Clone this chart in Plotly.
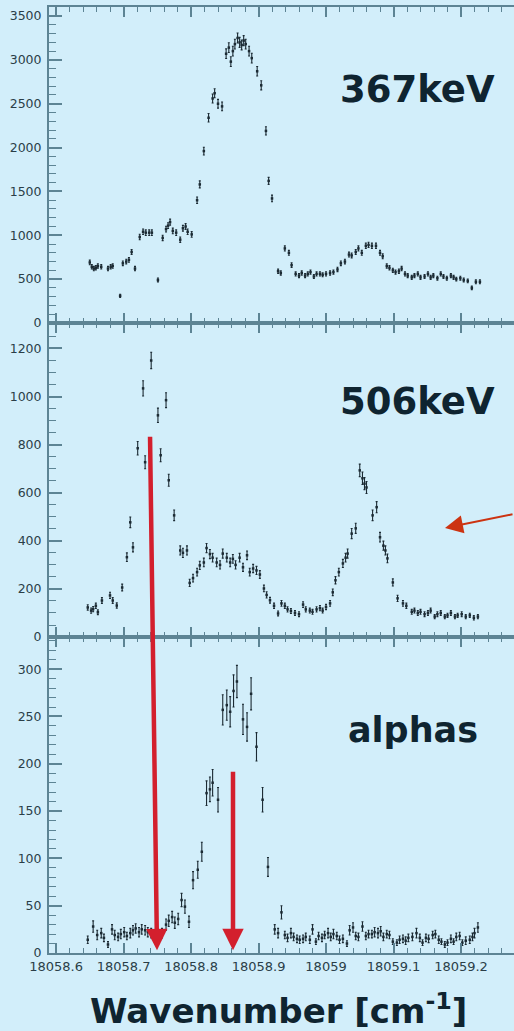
import plotly.graph_objects as go

# ---- 367 keV gate ----
wn_367 = [18058.650, 18058.653, 18058.656, 18058.659, 18058.662, 18058.667, 18058.677, 18058.681,
          18058.684, 18058.695, 18058.699, 18058.704, 18058.708, 18058.712, 18058.717, 18058.724,
          18058.729, 18058.733, 18058.738, 18058.742, 18058.751, 18058.758, 18058.763, 18058.766,
          18058.769, 18058.773, 18058.778, 18058.784, 18058.788, 18058.792, 18058.795, 18058.801,
          18058.809, 18058.813, 18058.819, 18058.826, 18058.832, 18058.835, 18058.840, 18058.846,
          18058.852, 18058.856, 18058.859, 18058.862, 18058.865, 18058.869, 18058.872, 18058.875,
          18058.878, 18058.881, 18058.886, 18058.890, 18058.898, 18058.904, 18058.911, 18058.915,
          18058.920, 18058.929, 18058.933, 18058.939, 18058.945, 18058.949, 18058.955, 18058.960,
          18058.964, 18058.969, 18058.973, 18058.977, 18058.982, 18058.986, 18058.991, 18058.995,
          18059.000, 18059.006, 18059.011, 18059.017, 18059.022, 18059.028, 18059.034, 18059.038,
          18059.044, 18059.048, 18059.053, 18059.059, 18059.063, 18059.068, 18059.074, 18059.080,
          18059.084, 18059.090, 18059.094, 18059.099, 18059.103, 18059.108, 18059.112, 18059.117,
          18059.121, 18059.127, 18059.131, 18059.136, 18059.140, 18059.146, 18059.151, 18059.155,
          18059.159, 18059.165, 18059.170, 18059.174, 18059.179, 18059.185, 18059.189, 18059.193,
          18059.199, 18059.204, 18059.210, 18059.216, 18059.222, 18059.228]
counts_367 = [690, 640, 620, 630, 650, 640, 620, 640, 650, 310, 680, 700, 720, 810, 620, 980,
              1040, 1030, 1030, 1030, 490, 970, 1070, 1110, 1150, 1050, 1030, 950, 1080, 1100, 1040, 1010,
              1400, 1580, 1960, 2340, 2560, 2620, 2500, 2470, 3070, 3140, 2980, 3100, 3180, 3250, 3200, 3170,
              3220, 3180, 3100, 3020, 2870, 2710, 2190, 1620, 1420, 590, 570, 850, 800, 660, 560, 540,
              570, 540, 560, 580, 530, 560, 560, 550, 560, 570, 580, 610, 680, 700, 780, 770,
              810, 850, 800, 880, 890, 880, 880, 800, 760, 650, 630, 600, 580, 590, 620, 560,
              540, 520, 540, 560, 520, 530, 560, 520, 540, 510, 560, 530, 510, 540, 520, 500,
              510, 490, 480, 400, 470, 470]
err_367 = [26, 25, 25, 25, 25, 25, 25, 25, 26, 18, 26, 26, 27, 28, 25, 31,
           32, 32, 32, 32, 22, 31, 33, 33, 34, 32, 32, 31, 33, 33, 32, 32,
           37, 40, 44, 48, 51, 51, 50, 50, 55, 56, 55, 56, 56, 57, 57, 56,
           57, 56, 56, 55, 54, 52, 47, 40, 38, 24, 24, 29, 28, 26, 24, 23,
           24, 23, 24, 24, 23, 24, 24, 23, 24, 24, 24, 25, 26, 26, 28, 28,
           28, 29, 28, 30, 30, 30, 30, 28, 28, 25, 25, 24, 24, 24, 25, 24,
           23, 23, 23, 24, 23, 23, 24, 23, 23, 23, 24, 23, 23, 23, 23, 22,
           23, 22, 22, 20, 22, 22]

# ---- 506 keV gate ----
wn_506 = [18058.647, 18058.652, 18058.655, 18058.659, 18058.662, 18058.668, 18058.680, 18058.684,
          18058.690, 18058.698, 18058.705, 18058.710, 18058.714, 18058.721, 18058.729, 18058.732,
          18058.741, 18058.751, 18058.755, 18058.763, 18058.767, 18058.775, 18058.784, 18058.788,
          18058.794, 18058.798, 18058.803, 18058.809, 18058.813, 18058.819, 18058.823, 18058.828,
          18058.832, 18058.838, 18058.843, 18058.847, 18058.853, 18058.858, 18058.862, 18058.866,
          18058.872, 18058.877, 18058.883, 18058.887, 18058.892, 18058.897, 18058.902, 18058.908,
          18058.912, 18058.917, 18058.923, 18058.929, 18058.934, 18058.939, 18058.943, 18058.948,
          18058.954, 18058.960, 18058.966, 18058.970, 18058.976, 18058.980, 18058.986, 18058.991,
          18058.995, 18059.000, 18059.006, 18059.010, 18059.014, 18059.019, 18059.025, 18059.029,
          18059.032, 18059.038, 18059.044, 18059.050, 18059.054, 18059.057, 18059.060, 18059.069,
          18059.075, 18059.080, 18059.085, 18059.088, 18059.091, 18059.099, 18059.106, 18059.114,
          18059.119, 18059.127, 18059.131, 18059.136, 18059.140, 18059.146, 18059.151, 18059.155,
          18059.161, 18059.165, 18059.170, 18059.176, 18059.180, 18059.185, 18059.191, 18059.195,
          18059.201, 18059.207, 18059.213, 18059.219, 18059.225]
counts_506 = [123, 110, 116, 130, 103, 152, 173, 152, 131, 206, 332, 477, 373, 785, 1034, 727,
              1150, 922, 756, 985, 652, 506, 360, 350, 360, 225, 245, 270, 298, 310, 370, 345,
              330, 310, 300, 347, 330, 310, 325, 300, 330, 290, 340, 270, 285, 277, 260, 202,
              175, 153, 130, 98, 140, 130, 115, 108, 100, 95, 135, 115, 110, 105, 115, 120,
              110, 125, 140, 186, 236, 270, 306, 330, 347, 430, 452, 693, 660, 638, 622, 506,
              540, 415, 380, 360, 327, 227, 161, 140, 130, 105, 110, 100, 105, 95, 100, 110,
              85, 95, 100, 85, 90, 100, 85, 90, 95, 85, 90, 80, 85]
err_506 = [11, 11, 11, 11, 10, 12, 13, 12, 11, 14, 18, 22, 19, 28, 32, 27,
           34, 30, 27, 31, 25, 22, 19, 19, 19, 15, 16, 16, 17, 18, 19, 19,
           18, 18, 17, 19, 18, 18, 18, 17, 18, 17, 18, 16, 17, 17, 16, 14,
           13, 12, 11, 10, 12, 11, 11, 10, 10, 10, 12, 11, 10, 10, 11, 11,
           10, 11, 12, 14, 15, 16, 17, 18, 19, 21, 21, 26, 26, 25, 25, 22,
           23, 20, 19, 19, 18, 15, 13, 12, 11, 10, 10, 10, 10, 10, 10, 10,
           9, 10, 10, 9, 9, 10, 9, 9, 10, 9, 9, 9, 9]

# ---- alpha gate ----
wn_alpha = [18058.647, 18058.655, 18058.661, 18058.667, 18058.671, 18058.677, 18058.683, 18058.687,
            18058.692, 18058.696, 18058.701, 18058.705, 18058.710, 18058.714, 18058.718, 18058.723,
            18058.727, 18058.732, 18058.736, 18058.741, 18058.745, 18058.751, 18058.757, 18058.763,
            18058.767, 18058.772, 18058.776, 18058.781, 18058.786, 18058.791, 18058.797, 18058.803,
            18058.810, 18058.816, 18058.823, 18058.828, 18058.832, 18058.840, 18058.847, 18058.853,
            18058.858, 18058.863, 18058.868, 18058.877, 18058.883, 18058.889, 18058.897, 18058.906,
            18058.914, 18058.924, 18058.929, 18058.934, 18058.939, 18058.943, 18058.948, 18058.952,
            18058.957, 18058.961, 18058.966, 18058.970, 18058.976, 18058.980, 18058.985, 18058.989,
            18058.994, 18058.998, 18059.003, 18059.007, 18059.011, 18059.016, 18059.020, 18059.025,
            18059.031, 18059.035, 18059.040, 18059.044, 18059.048, 18059.054, 18059.059, 18059.063,
            18059.068, 18059.072, 18059.077, 18059.081, 18059.085, 18059.090, 18059.094, 18059.099,
            18059.105, 18059.109, 18059.114, 18059.118, 18059.122, 18059.128, 18059.134, 18059.139,
            18059.143, 18059.148, 18059.152, 18059.158, 18059.162, 18059.167, 18059.171, 18059.176,
            18059.180, 18059.185, 18059.189, 18059.193, 18059.198, 18059.202, 18059.207, 18059.213,
            18059.217, 18059.220, 18059.225]
counts_alpha = [14, 28, 19, 21, 16, 9, 25, 19, 17, 20, 22, 18, 21, 24, 26, 22,
                25, 24, 22, 21, 18, 20, 21, 30, 34, 38, 32, 36, 56, 49, 33, 77,
                88, 107, 169, 173, 180, 162, 257, 262, 255, 277, 287, 247, 239, 274, 218, 162,
                91, 25, 21, 43, 19, 16, 21, 17, 15, 14, 15, 17, 14, 25, 12, 18,
                16, 19, 21, 17, 20, 18, 14, 15, 10, 24, 27, 18, 17, 28, 18, 20,
                20, 22, 21, 23, 17, 20, 19, 12, 11, 14, 15, 13, 16, 17, 21, 16,
                11, 16, 15, 19, 20, 14, 12, 9, 11, 15, 12, 17, 18, 11, 13, 14,
                17, 21, 27]
err_alpha = [4, 6, 5, 5, 4, 3, 5, 5, 4, 5, 5, 4, 5, 5, 5, 5,
             5, 5, 5, 5, 4, 5, 5, 6, 6, 6, 6, 6, 7, 7, 6, 9,
             9, 10, 13, 13, 14, 13, 16, 16, 16, 17, 17, 16, 15, 17, 15, 13,
             10, 5, 5, 7, 4, 4, 5, 4, 4, 4, 4, 4, 4, 5, 3, 4,
             4, 4, 5, 4, 5, 4, 4, 4, 3, 5, 5, 4, 4, 5, 4, 4,
             4, 5, 5, 5, 4, 4, 4, 3, 3, 4, 4, 4, 4, 4, 5, 4,
             3, 4, 4, 4, 4, 4, 3, 3, 3, 4, 3, 4, 4, 3, 4, 4,
             4, 5, 5]

# shared wavenumber axis
x_tick_vals = [18058.6, 18058.7, 18058.8, 18058.9, 18059.0, 18059.1, 18059.2]
x_tick_text = ["18058.6", "18058.7", "18058.8", "18058.9", "18059", "18059.1", "18059.2"]
x_range = [18058.5896, 18059.2785]

BG = "#d2eefa"
AX = "#5d8494"
INK = "#1b2a33"
LABEL = "#0f2430"
TICKFONT = dict(family="DejaVu Sans", size=12.5, color="#2a3e48")

panels = [
    ("x", "y", wn_367, counts_367, err_367),
    ("x2", "y2", wn_506, counts_506, err_506),
    ("x3", "y3", wn_alpha, counts_alpha, err_alpha),
]

fig = go.Figure()
for xa, ya, xs, ys, es in panels:
    fig.add_trace(go.Scatter(
        x=xs, y=ys, xaxis=xa, yaxis=ya, mode="markers",
        marker=dict(symbol="square", size=2.5, color=INK),
        error_y=dict(type="data", array=es, visible=True, color=INK, thickness=1.1, width=1),
        showlegend=False, hoverinfo="skip",
    ))

def x_axis(anchor, labels):
    return dict(
        anchor=anchor, range=x_range, showline=True, linecolor=AX, linewidth=2, mirror="ticks",
        ticks="inside", ticklen=10, tickwidth=1.5, tickcolor=AX,
        tickmode="array", tickvals=x_tick_vals, ticktext=x_tick_text,
        showticklabels=labels, tickfont=dict(family="DejaVu Sans", size=13, color="#2a3e48"),
        minor=dict(ticks="inside", ticklen=5, tickwidth=1.2, tickcolor=AX,
                   tickmode="linear", tick0=18058.6, dtick=0.02, showgrid=False),
        showgrid=False, zeroline=False,
    )

def y_axis(anchor, domain, yrange, major, minor):
    return dict(
        anchor=anchor, domain=domain, range=yrange, showline=True, linecolor=AX, linewidth=2,
        ticks="inside", ticklen=13, tickwidth=1.5, tickcolor=AX,
        tickmode="linear", tick0=0, dtick=major, tickfont=TICKFONT, ticklabelstandoff=3,
        minor=dict(ticks="inside", ticklen=7, tickwidth=1.2, tickcolor=AX,
                   tickmode="linear", tick0=0, dtick=minor, showgrid=False),
        showgrid=False, zeroline=False,
    )

fig.update_layout(
    width=514, height=1031,
    margin=dict(l=49, r=0, t=7, b=78),
    paper_bgcolor=BG, plot_bgcolor=BG,
    xaxis=x_axis("y", False),
    xaxis2=x_axis("y2", False),
    xaxis3=x_axis("y3", True),
    yaxis=y_axis("x", [0.666, 1.0], [0, 3603], 500, 100),
    yaxis2=y_axis("x2", [0.334, 0.666], [0, 1306], 200, 50),
    yaxis3=y_axis("x3", [0.0, 0.334], [0, 334], 50, 10),
)

label_font = dict(family="DejaVu Sans", size=37, color=LABEL, weight="bold")
annotations = [
    dict(text="367keV", x=0.7914, y=0.9125, font=label_font),
    dict(text="506keV", x=0.7914, y=0.5835, font=label_font),
    dict(text="alphas", x=0.7828, y=0.2357,
         font=dict(family="DejaVu Sans", size=35, color=LABEL, weight="bold")),
    dict(text="Wavenumber [cm<sup>-1</sup>]", x=0.4946, y=-0.0592,
         font=dict(family="DejaVu Sans", size=34, color=LABEL, weight="bold")),
]
for a in annotations:
    a.update(xref="paper", yref="paper", xanchor="center", yanchor="middle", showarrow=False)

# marker arrows
arrows = [
    dict(x=0.2323, y=0.003, ax=-7, ay=-515, arrowcolor="#d31f2d", arrowwidth=4.5,
         arrowhead=2, arrowsize=0.95),
    dict(x=0.3957, y=0.003, ax=0, ay=-180, arrowcolor="#d31f2d", arrowwidth=4.5,
         arrowhead=2, arrowsize=0.95),
    dict(x=0.8516, y=0.4493, ax=85, ay=-14, arrowcolor="#cc3311", arrowwidth=2,
         arrowhead=2, arrowsize=1.8),
]
for a in arrows:
    a.update(xref="paper", yref="paper", axref="pixel", ayref="pixel", text="",
             showarrow=True, standoff=0)

fig.update_layout(annotations=annotations + arrows)
fig.write_html("out.html")
